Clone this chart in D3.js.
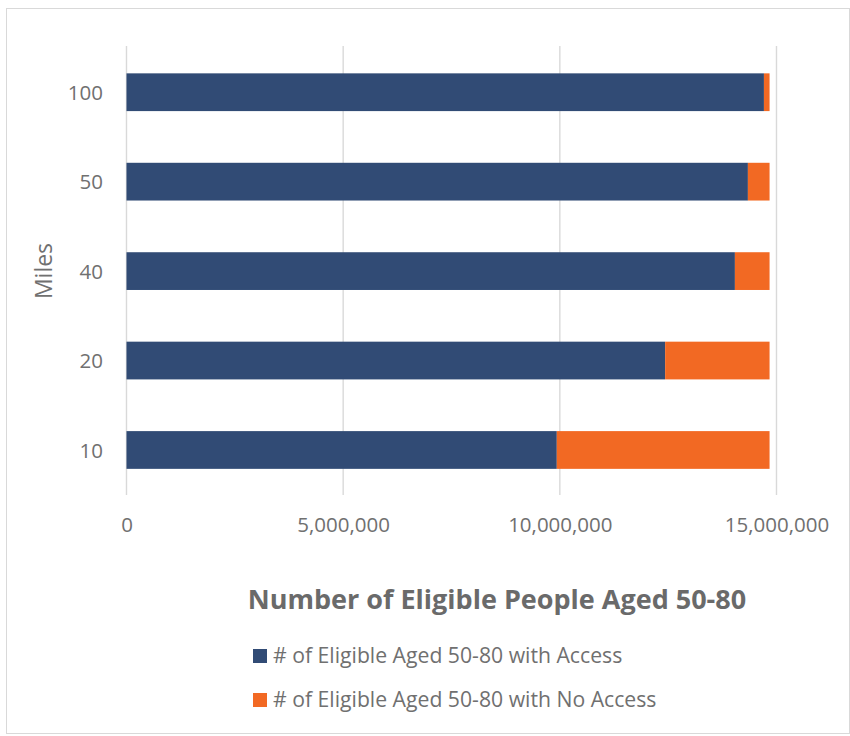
<!DOCTYPE html>
<html>
<head>
<meta charset="utf-8">
<script src="https://cdn.jsdelivr.net/npm/d3@7"></script>
<style>
  html, body { margin: 0; padding: 0; background: #ffffff; }
  svg { display: block; font-family: "Open Sans", "Noto Sans", sans-serif; }
</style>
</head>
<body>
<svg id="chart" width="850" height="736"></svg>
<script>
// Distance bands (miles), bottom to top
const miles = ["10", "20", "40", "50", "100"];
// Eligible people aged 50-80 within reach of a screening site
const withAccess = [9930000, 12430000, 14040000, 14340000, 14710000];
// Eligible people aged 50-80 without access
const noAccess = [4910000, 2410000, 800000, 500000, 130000];
// Horizontal axis ticks
const xTicks = [0, 5000000, 10000000, 15000000];

const seriesKeys = ["access", "noAccess"];
const seriesNames = ["# of Eligible Aged 50-80 with Access", "# of Eligible Aged 50-80 with No Access"];
const seriesColors = ["#314B75", "#F26923"];

const rows = miles.map((m, i) => ({ miles: m, access: withAccess[i], noAccess: noAccess[i] }));
const stacked = d3.stack().keys(seriesKeys)(rows);

const svg = d3.select("#chart");

// outer chart frame
svg.append("rect")
  .attr("x", 6.5).attr("y", 8.5)
  .attr("width", 843).attr("height", 725)
  .attr("fill", "#ffffff")
  .attr("stroke", "#d9d9d9").attr("stroke-width", 1);

const x = d3.scaleLinear().domain([0, 15000000]).range([126.5, 776.5]);
const y = d3.scaleBand()
  .domain(miles.slice().reverse())
  .range([47.5, 494.7])
  .paddingInner(0.578)
  .paddingOuter(0.289);

const textColor = "#707070";

// vertical gridlines
svg.append("g")
  .selectAll("line")
  .data(xTicks)
  .join("line")
  .attr("x1", d => x(d)).attr("x2", d => x(d))
  .attr("y1", 46).attr("y2", 495)
  .attr("stroke", "#d9d9d9").attr("stroke-width", 1.4);

// stacked bars
svg.append("g")
  .selectAll("g")
  .data(stacked)
  .join("g")
  .attr("fill", (d, i) => seriesColors[i])
  .selectAll("rect")
  .data(d => d)
  .join("rect")
  .attr("x", d => x(d[0]))
  .attr("width", d => x(d[1]) - x(d[0]))
  .attr("y", d => y(d.data.miles))
  .attr("height", y.bandwidth());

// x axis labels
const xAxis = d3.axisBottom(x)
  .tickValues(xTicks)
  .tickFormat(d3.format(","))
  .tickSize(0)
  .tickPadding(0);
const gx = svg.append("g").attr("transform", "translate(0,517)").call(xAxis);
gx.select(".domain").remove();
gx.selectAll("text")
  .attr("dy", "0.71em")
  .attr("fill", textColor)
  .attr("font-size", 20.5)
  .attr("font-family", "'Open Sans', sans-serif");

// y axis labels
const yAxis = d3.axisLeft(y).tickSize(0).tickPadding(0);
const gy = svg.append("g").attr("transform", "translate(103,0)").call(yAxis);
gy.select(".domain").remove();
gy.selectAll("text")
  .attr("dy", "0.38em")
  .attr("fill", textColor)
  .attr("font-size", 20.5)
  .attr("font-family", "'Open Sans', sans-serif");

// vertical axis title
svg.append("text")
  .attr("transform", "translate(52,271) rotate(-90)")
  .attr("text-anchor", "middle")
  .attr("fill", textColor)
  .attr("font-size", 23)
  .text("Miles");

// horizontal axis title
svg.append("text")
  .attr("x", 497).attr("y", 609)
  .attr("text-anchor", "middle")
  .attr("fill", "#6a6a6a")
  .attr("font-size", 27)
  .attr("font-weight", "bold")
  .text("Number of Eligible People Aged 50-80");

// legend
const legend = svg.append("g")
  .selectAll("g")
  .data(seriesNames)
  .join("g")
  .attr("transform", (d, i) => `translate(253,${649 + i * 44})`);
legend.append("rect")
  .attr("width", 14).attr("height", 14)
  .attr("fill", (d, i) => seriesColors[i]);
legend.append("text")
  .attr("x", 20).attr("y", 14)
  .attr("fill", textColor)
  .attr("font-size", 21.2)
  .text(d => d);
</script>
</body>
</html>
